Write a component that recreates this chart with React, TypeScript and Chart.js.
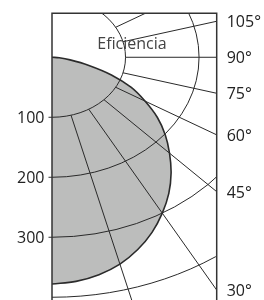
import React, { useEffect, useRef } from "react";
import { Chart, registerables } from "chart.js";

Chart.register(...registerables);

// Luminous intensity curve (cd/klm), angle from nadir
const ANGLES = [0, 5, 10, 15, 20, 25, 30, 35, 40, 45, 50, 55, 60, 65, 70, 75, 80, 85, 90];
const INTENSITY = [378, 375, 368, 357, 341, 322, 300, 277, 252, 226, 201, 175, 146, 119, 86, 51, 25, 10, 0];

// Polar grid
const RINGS = [100, 200, 300, 400];
const RING_LABELS = ["100", "200", "300"];
const SPOKES = [15, 30, 45, 60, 75, 90, 105, 120];
const ANGLE_LABELS = [30, 45, 60, 75, 90, 105];
const TITLE = "Eficiencia";

// Axis ranges (units)
const X_MIN = 0;
const X_MAX = 224;
const Y_MIN = -73.3;
const Y_MAX = 437.9;

const FONT = '"Open Sans", "Noto Sans", sans-serif';
const rad = (d: number) => (d * Math.PI) / 180;

const gridPlugin = {
  id: "polarGrid",
  afterDatasetDraw(chart: any, args: any) {
    if (args.index !== 0) return;
    const { ctx, chartArea: a } = chart;
    const x = chart.scales.x;
    const y = chart.scales.y;
    const cx = x.getPixelForValue(0);
    const cy = y.getPixelForValue(0);
    ctx.save();
    ctx.beginPath();
    ctx.rect(a.left, a.top, a.right - a.left, a.bottom - a.top);
    ctx.clip();
    ctx.strokeStyle = "#2a2a2a";
    ctx.lineWidth = 1;
    RINGS.forEach((r) => {
      const rx = x.getPixelForValue(r) - cx;
      const ry = y.getPixelForValue(r) - cy;
      ctx.beginPath();
      ctx.ellipse(cx, cy, rx, ry, 0, 0, Math.PI * 2);
      ctx.stroke();
    });
    SPOKES.forEach((deg) => {
      const t = rad(deg);
      const p = (r: number) => [x.getPixelForValue(r * Math.sin(t)), y.getPixelForValue(r * Math.cos(t))];
      const [x0, y0] = p(RINGS[0]);
      const [x1, y1] = p(3000);
      ctx.beginPath();
      ctx.moveTo(x0, y0);
      ctx.lineTo(x1, y1);
      ctx.stroke();
    });
    ctx.restore();
  },
  afterDraw(chart: any) {
    const { ctx, chartArea: a } = chart;
    const x = chart.scales.x;
    const y = chart.scales.y;
    const cx = x.getPixelForValue(0);
    const cy = y.getPixelForValue(0);
    ctx.save();
    // frame
    ctx.strokeStyle = "#333";
    ctx.lineWidth = 1.5;
    ctx.beginPath();
    ctx.moveTo(a.left, a.bottom + 20);
    ctx.lineTo(a.left, a.top);
    ctx.lineTo(a.right, a.top);
    ctx.lineTo(a.right, a.bottom + 20);
    ctx.stroke();
    // ring labels + ticks
    ctx.lineWidth = 1;
    ctx.fillStyle = "#222";
    ctx.font = `16px ${FONT}`;
    ctx.textAlign = "right";
    ctx.textBaseline = "middle";
    RING_LABELS.forEach((lab) => {
      const py = y.getPixelForValue(Number(lab));
      ctx.beginPath();
      ctx.moveTo(a.left - 3.5, py);
      ctx.lineTo(a.left, py);
      ctx.stroke();
      ctx.fillText(lab, a.left - 7.5, py + 1);
    });
    // angle labels at the right edge
    ctx.textAlign = "left";
    ANGLE_LABELS.forEach((deg) => {
      const t = rad(deg);
      const py = y.getPixelForValue(X_MAX * (Math.cos(t) / Math.sin(t)));
      ctx.fillText(`${deg}°`, a.right + 10, py + 1.5);
    });
    // title
    ctx.fillStyle = "#444";
    ctx.font = `16px ${FONT}`;
    ctx.textAlign = "center";
    ctx.textBaseline = "alphabetic";
    ctx.fillText(TITLE, cx + 80, cy - 8);
    ctx.restore();
  },
};

export default function App() {
  const ref = useRef<HTMLCanvasElement | null>(null);
  useEffect(() => {
    if (!ref.current) return;
    const pts = ANGLES.map((d, i) => ({
      x: INTENSITY[i] * Math.sin(rad(d)),
      y: INTENSITY[i] * Math.cos(rad(d)),
    }));
    const chart = new Chart(ref.current, {
      type: "scatter",
      data: {
        datasets: [
          {
            data: pts,
            showLine: true,
            fill: "shape",
            backgroundColor: "#bcbdbc",
            borderWidth: 0,
            borderColor: "rgba(0,0,0,0)",
            pointRadius: 0,
            tension: 0.35,
            order: 2,
          } as any,
          {
            data: pts,
            showLine: true,
            fill: false,
            borderColor: "#2b2b2b",
            borderWidth: 1.6,
            pointRadius: 0,
            tension: 0.35,
            order: 1,
          } as any,
        ],
      },
      options: {
        animation: false,
        responsive: false,
        devicePixelRatio: 1,
        layout: { padding: { left: 52, right: 47.3, top: 13.3, bottom: 10 } },
        plugins: { legend: { display: false }, tooltip: { enabled: false } },
        scales: {
          x: { type: "linear", min: X_MIN, max: X_MAX, display: false },
          y: { type: "linear", min: Y_MIN, max: Y_MAX, reverse: true, display: false },
        },
      },
      plugins: [gridPlugin],
    });
    return () => chart.destroy();
  }, []);
  return (
    <div style={{ position: "fixed", left: 0, top: 0, width: 264, height: 330, background: "#fff" }}>
      <canvas ref={ref} width={264} height={330} style={{ display: "block" }} />
    </div>
  );
}
